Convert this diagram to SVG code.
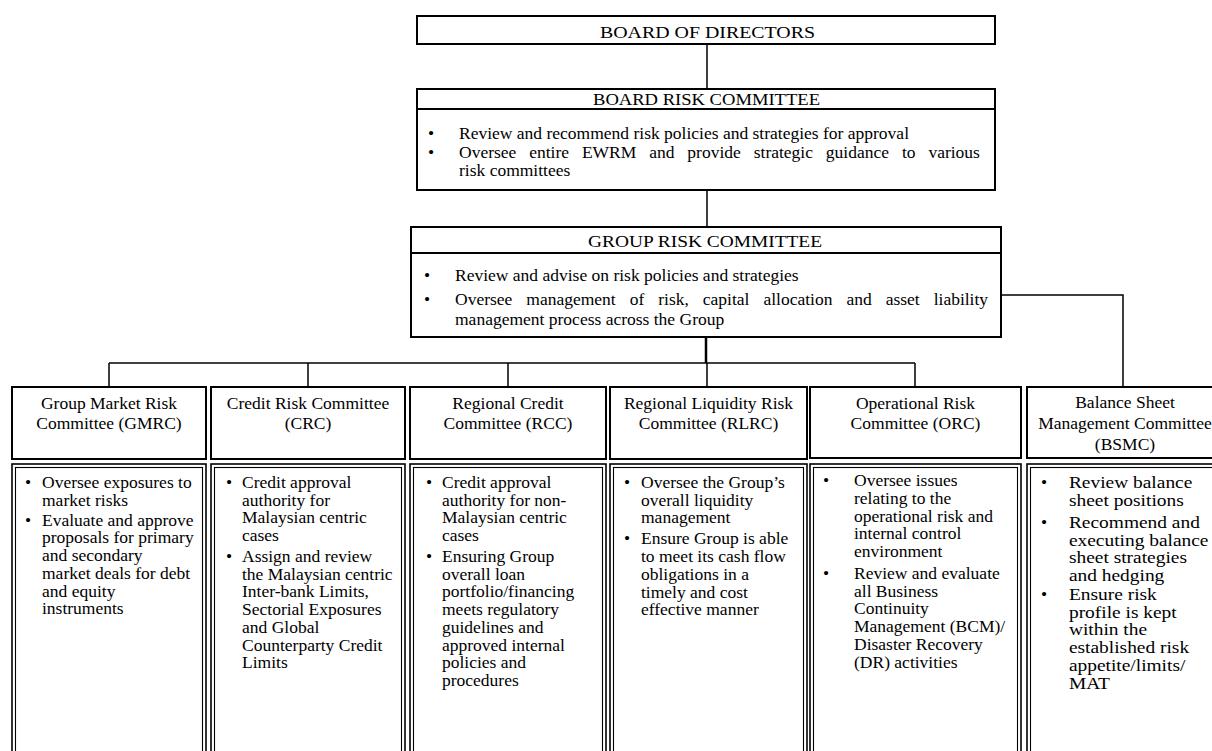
<svg xmlns="http://www.w3.org/2000/svg" width="1212" height="751" viewBox="0 0 1212 751">
<style>
.bg{fill:#fff}
.box{fill:#fff;stroke:#000;stroke-width:2}
.dbo{fill:#fff;stroke:#000;stroke-width:1.6}
.dbi{fill:none;stroke:#000;stroke-width:1.1}
.sep{stroke:#000;stroke-width:2}
.conn{stroke:#000;stroke-width:1.5;fill:none}
.t{font-family:"Liberation Serif","Times New Roman",serif;font-size:17.5px;fill:#000}
.c{text-anchor:middle}
</style>
<rect class="bg" x="0" y="0" width="1212" height="751"/>

<g id="connectors">
  <line class="conn" x1="707" y1="44" x2="707" y2="89"/>
  <line class="conn" x1="707" y1="190" x2="707" y2="227"/>
  <line class="conn" x1="706" y1="337" x2="706" y2="363" style="stroke-width:2.5"/>
  <line class="conn" x1="109" y1="363" x2="915" y2="363"/>
  <line class="conn" x1="109" y1="363" x2="109" y2="387"/>
  <line class="conn" x1="308" y1="363" x2="308" y2="387"/>
  <line class="conn" x1="508" y1="363" x2="508" y2="387"/>
  <line class="conn" x1="707" y1="363" x2="707" y2="387"/>
  <line class="conn" x1="915" y1="363" x2="915" y2="387"/>
  <polyline class="conn" points="1001,295 1123,295 1123,387"/>
</g>

<g id="board-of-directors">
  <rect class="box" x="417" y="16" width="578" height="28"/>
  <text class="t" x="600" y="38" textLength="215" lengthAdjust="spacingAndGlyphs">BOARD OF DIRECTORS</text>
</g>

<g id="board-risk-committee">
  <rect class="box" x="417" y="89" width="578" height="101"/>
  <line class="sep" x1="417" y1="109" x2="995" y2="109"/>
  <text class="t" x="593" y="105" textLength="227" lengthAdjust="spacingAndGlyphs">BOARD RISK COMMITTEE</text>
  <text class="t" x="428" y="139">•</text>
  <text class="t" x="459" y="139">Review and recommend risk policies and strategies for approval</text>
  <text class="t" x="428" y="158">•</text>
  <text class="t" x="459" y="158" word-spacing="8.5">Oversee entire EWRM and provide strategic guidance to various</text>
  <text class="t" x="459" y="176">risk committees</text>
</g>

<g id="group-risk-committee">
  <rect class="box" x="411" y="227" width="590" height="110"/>
  <line class="sep" x1="411" y1="253" x2="1001" y2="253"/>
  <text class="t" x="588" y="247" textLength="234" lengthAdjust="spacingAndGlyphs">GROUP RISK COMMITTEE</text>
  <text class="t" x="424" y="281">•</text>
  <text class="t" x="455" y="281">Review and advise on risk policies and strategies</text>
  <text class="t" x="424" y="305">•</text>
  <text class="t" x="455" y="305" word-spacing="9.6">Oversee management of risk, capital allocation and asset liability</text>
  <text class="t" x="455" y="325">management process across the Group</text>
</g>

<g id="gmrc">
  <rect class="box" x="12" y="387" width="194" height="72"/>
  <text class="t c" x="109" y="409">Group Market Risk</text>
  <text class="t c" x="109" y="429">Committee (GMRC)</text>
  <rect class="dbo" x="12" y="464" width="194" height="300"/>
  <rect class="dbi" x="15.5" y="467.5" width="187" height="300"/>
  <text class="t" x="25" y="488">•</text>
  <text class="t" x="42" y="488">Oversee exposures to</text>
  <text class="t" x="42" y="505.7">market risks</text>
  <text class="t" x="25" y="525.7">•</text>
  <text class="t" x="42" y="525.7">Evaluate and approve</text>
  <text class="t" x="42" y="543.4">proposals for primary</text>
  <text class="t" x="42" y="561.1">and secondary</text>
  <text class="t" x="42" y="578.8">market deals for debt</text>
  <text class="t" x="42" y="596.5">and equity</text>
  <text class="t" x="42" y="614.2">instruments</text>
</g>

<g id="crc">
  <rect class="box" x="211" y="387" width="194" height="72"/>
  <text class="t c" x="308" y="409">Credit Risk Committee</text>
  <text class="t c" x="308" y="429">(CRC)</text>
  <rect class="dbo" x="211" y="464" width="194" height="300"/>
  <rect class="dbi" x="214.5" y="467.5" width="187" height="300"/>
  <text class="t" x="226" y="488">•</text>
  <text class="t" x="242" y="488">Credit approval</text>
  <text class="t" x="242" y="505.7">authority for</text>
  <text class="t" x="242" y="523.4">Malaysian centric</text>
  <text class="t" x="242" y="541.1">cases</text>
  <text class="t" x="226" y="562">•</text>
  <text class="t" x="242" y="562">Assign and review</text>
  <text class="t" x="242" y="579.7">the Malaysian centric</text>
  <text class="t" x="242" y="597.4">Inter-bank Limits,</text>
  <text class="t" x="242" y="615.1">Sectorial Exposures</text>
  <text class="t" x="242" y="632.8">and Global</text>
  <text class="t" x="242" y="650.5">Counterparty Credit</text>
  <text class="t" x="242" y="668.2">Limits</text>
</g>

<g id="rcc">
  <rect class="box" x="410" y="387" width="196" height="72"/>
  <text class="t c" x="508" y="409">Regional Credit</text>
  <text class="t c" x="508" y="429">Committee (RCC)</text>
  <rect class="dbo" x="410" y="464" width="196" height="300"/>
  <rect class="dbi" x="413.5" y="467.5" width="189" height="300"/>
  <text class="t" x="426" y="488">•</text>
  <text class="t" x="442" y="488">Credit approval</text>
  <text class="t" x="442" y="505.7">authority for non-</text>
  <text class="t" x="442" y="523.4">Malaysian centric</text>
  <text class="t" x="442" y="541.1">cases</text>
  <text class="t" x="426" y="562">•</text>
  <text class="t" x="442" y="562">Ensuring Group</text>
  <text class="t" x="442" y="579.7">overall loan</text>
  <text class="t" x="442" y="597.4">portfolio/financing</text>
  <text class="t" x="442" y="615.1">meets regulatory</text>
  <text class="t" x="442" y="632.8">guidelines and</text>
  <text class="t" x="442" y="650.5">approved internal</text>
  <text class="t" x="442" y="668.2">policies and</text>
  <text class="t" x="442" y="685.9">procedures</text>
</g>

<g id="rlrc">
  <rect class="box" x="610" y="387" width="197" height="72"/>
  <text class="t c" x="708.5" y="409">Regional Liquidity Risk</text>
  <text class="t c" x="708.5" y="429">Committee (RLRC)</text>
  <rect class="dbo" x="610" y="464" width="197" height="300"/>
  <rect class="dbi" x="613.5" y="467.5" width="190" height="300"/>
  <text class="t" x="624" y="488">•</text>
  <text class="t" x="641" y="488">Oversee the Group’s</text>
  <text class="t" x="641" y="505.7">overall liquidity</text>
  <text class="t" x="641" y="523.4">management</text>
  <text class="t" x="624" y="544.4">•</text>
  <text class="t" x="641" y="544.4">Ensure Group is able</text>
  <text class="t" x="641" y="562.1">to meet its cash flow</text>
  <text class="t" x="641" y="579.8">obligations in a</text>
  <text class="t" x="641" y="597.5">timely and cost</text>
  <text class="t" x="641" y="615.2">effective manner</text>
</g>

<g id="orc">
  <rect class="box" x="810" y="387" width="211" height="71"/>
  <text class="t c" x="915.5" y="409">Operational Risk</text>
  <text class="t c" x="915.5" y="429">Committee (ORC)</text>
  <rect class="dbo" x="810" y="464" width="211" height="300"/>
  <rect class="dbi" x="813.5" y="467.5" width="204" height="300"/>
  <text class="t" x="823" y="486.2">•</text>
  <text class="t" x="854" y="486.2">Oversee issues</text>
  <text class="t" x="854" y="503.9">relating to the</text>
  <text class="t" x="854" y="521.6">operational risk and</text>
  <text class="t" x="854" y="539.3">internal control</text>
  <text class="t" x="854" y="557">environment</text>
  <text class="t" x="823" y="579">•</text>
  <text class="t" x="854" y="579">Review and evaluate</text>
  <text class="t" x="854" y="596.7">all Business</text>
  <text class="t" x="854" y="614.4">Continuity</text>
  <text class="t" x="854" y="632.1">Management (BCM)/</text>
  <text class="t" x="854" y="649.8">Disaster Recovery</text>
  <text class="t" x="854" y="667.5">(DR) activities</text>
</g>

<g id="bsmc">
  <rect class="box" x="1027" y="387" width="200" height="71"/>
  <text class="t c" x="1125" y="408">Balance Sheet</text>
  <text class="t c" x="1125" y="429">Management Committee</text>
  <text class="t c" x="1125" y="450">(BSMC)</text>
  <rect class="dbo" x="1027" y="464" width="200" height="300"/>
  <rect class="dbi" x="1030.5" y="467.5" width="200" height="300"/>
  <text class="t" x="1041" y="488">•</text>
  <text class="t" x="1041" y="528">•</text>
  <text class="t" x="1041" y="600">•</text>
  <g transform="scale(1.11 1)">
    <text class="t" x="963" y="488">Review balance</text>
    <text class="t" x="963" y="506">sheet positions</text>
    <text class="t" x="963" y="528">Recommend and</text>
    <text class="t" x="963" y="546">executing balance</text>
    <text class="t" x="963" y="563.5">sheet strategies</text>
    <text class="t" x="963" y="581">and hedging</text>
    <text class="t" x="963" y="600">Ensure risk</text>
    <text class="t" x="963" y="618">profile is kept</text>
    <text class="t" x="963" y="635.5">within the</text>
    <text class="t" x="963" y="653">established risk</text>
    <text class="t" x="963" y="671">appetite/limits/</text>
    <text class="t" x="963" y="689">MAT</text>
  </g>
</g>
</svg>
